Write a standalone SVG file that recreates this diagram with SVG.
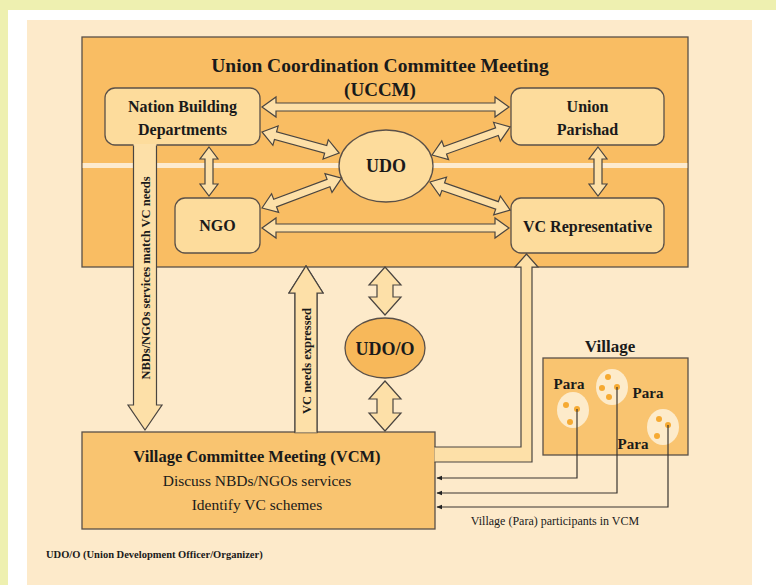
<svg xmlns="http://www.w3.org/2000/svg" width="776" height="585" viewBox="0 0 776 585">
<defs>
<style>
.t{font-family:"Liberation Serif","Times New Roman",serif;fill:#1a1a1a}
.b{font-weight:bold}
.box{stroke:#5a5048;stroke-width:1.3}
.lite{fill:#fddc9c}
.arr{fill:#fde0a8;stroke:#4a4540;stroke-width:1.2;stroke-linejoin:miter}
.thin{fill:none;stroke:#3a3530;stroke-width:1.2}
.para{fill:#fdebca}
.dot{fill:#f6aa32}
</style>
<marker id="ah" viewBox="0 0 10 10" refX="9" refY="5" markerWidth="6" markerHeight="6" orient="auto" markerUnits="userSpaceOnUse">
<path d="M0,1 L10,5 L0,9 Z" fill="#222"/>
</marker>
</defs>
<rect x="0" y="0" width="776" height="585" fill="#ffffff"/>
<rect x="0" y="0" width="776" height="10" fill="#eef0b0"/>
<rect x="0" y="0" width="8" height="585" fill="#eef0b0"/>
<rect x="27" y="20" width="725" height="565" fill="#fdeaca"/>

<g id="uccm">
<rect class="box" x="82" y="37" width="606" height="230" fill="#f9bd63"/>
<rect x="82.7" y="163" width="604.6" height="5" fill="#fdebd0"/>
<text class="t b" x="380" y="72" font-size="19.5" text-anchor="middle">Union Coordination Committee Meeting</text>
<text class="t b" x="380" y="96" font-size="19" text-anchor="middle">(UCCM)</text>
</g>

<g id="nbd">
<rect class="box lite" x="105" y="88" width="155" height="57" rx="10"/>
<path d="M133.5,144 V405 H128 L145,430 L162,405 H156.5 V144 Z" fill="#fde0a8"/>
<path class="arr" fill="none" d="M133.5,145.6 V405 H128 L145,430 L162,405 H156.5 V145.6"/>
<text class="t b" x="182.5" y="112" font-size="16" text-anchor="middle">Nation Building</text>
<text class="t b" x="182.5" y="135" font-size="16" text-anchor="middle">Departments</text>
<text class="t b" transform="translate(149.5,278) rotate(-90)" font-size="12.5" text-anchor="middle">NBDs/NGOs services match VC needs</text>
</g>

<g id="ngo">
<rect class="box lite" x="175" y="198" width="85" height="55" rx="10"/>
<text class="t b" x="217.5" y="231" font-size="16" text-anchor="middle">NGO</text>
</g>

<g id="udo">
<ellipse class="box lite" cx="386" cy="166" rx="47" ry="36"/>
<text class="t b" x="386" y="172" font-size="18" text-anchor="middle">UDO</text>
</g>

<g id="union-parishad">
<rect class="box lite" x="511" y="88" width="153" height="57" rx="10"/>
<text class="t b" x="587.5" y="112" font-size="16" text-anchor="middle">Union</text>
<text class="t b" x="587.5" y="135" font-size="16" text-anchor="middle">Parishad</text>
</g>

<g id="vc-representative">
<rect class="box lite" x="511" y="198" width="153" height="55" rx="10"/>
<text class="t b" x="587.5" y="232" font-size="16" text-anchor="middle">VC Representative</text>
</g>

<g id="udo-o">
<ellipse class="box" cx="385" cy="348" rx="40" ry="30" fill="#f7b85a"/>
<text class="t b" x="385" y="355" font-size="18" text-anchor="middle">UDO/O</text>
</g>

<g id="vcm">
<rect class="box" x="82" y="432" width="353" height="97" fill="#f9c470"/>
<text class="t b" x="257" y="462" font-size="16.5" text-anchor="middle">Village Committee Meeting (VCM)</text>
<text class="t" x="257" y="486" font-size="15.5" text-anchor="middle">Discuss NBDs/NGOs services</text>
<text class="t" x="257" y="510" font-size="15.5" text-anchor="middle">Identify VC schemes</text>
</g>

<g id="village">
<text class="t b" x="610" y="352" font-size="17" text-anchor="middle">Village</text>
<rect class="box" x="543" y="358" width="145" height="97" fill="#f9c470"/>
<ellipse class="para" cx="573" cy="410" rx="16" ry="18"/>
<ellipse class="para" cx="612" cy="387" rx="16" ry="18"/>
<ellipse class="para" cx="663" cy="427" rx="16" ry="18"/>
<circle class="dot" cx="566" cy="405" r="3"/>
<circle class="dot" cx="577" cy="409" r="3"/>
<circle class="dot" cx="570" cy="422" r="3"/>
<circle class="dot" cx="608" cy="377" r="3"/>
<circle class="dot" cx="602" cy="388" r="3"/>
<circle class="dot" cx="617" cy="387" r="3"/>
<circle class="dot" cx="609" cy="397" r="3"/>
<circle class="dot" cx="659" cy="419" r="3"/>
<circle class="dot" cx="668" cy="425" r="3"/>
<circle class="dot" cx="657" cy="436" r="3"/>
<text class="t b" x="569" y="389" font-size="15" text-anchor="middle">Para</text>
<text class="t b" x="648" y="398" font-size="15" text-anchor="middle">Para</text>
<text class="t b" x="633" y="449" font-size="15" text-anchor="middle">Para</text>
</g>

<g id="connectors">
<path class="arr" transform="translate(262,107)" d="M0,0 L14,-10 L14,-4 L233,-4 L233,-10 L247,0 L233,10 L233,4 L14,4 L14,10 Z"/>
<path class="arr" transform="translate(262,228)" d="M0,0 L14,-10 L14,-4 L233,-4 L233,-10 L247,0 L233,10 L233,4 L14,4 L14,10 Z"/>
<path class="arr" transform="translate(262,132) rotate(15.25)" d="M0,0 L14,-10 L14,-4 L66,-4 L66,-10 L80,0 L66,10 L66,4 L14,4 L14,10 Z"/>
<path class="arr" transform="translate(262,208) rotate(-20.56)" d="M0,0 L14,-10 L14,-4 L71,-4 L71,-10 L85,0 L71,10 L71,4 L14,4 L14,10 Z"/>
<path class="arr" transform="translate(432,155) rotate(-19.75)" d="M0,0 L14,-10 L14,-4 L69,-4 L69,-10 L83,0 L69,10 L69,4 L14,4 L14,10 Z"/>
<path class="arr" transform="translate(430,182) rotate(19.29)" d="M0,0 L14,-10 L14,-4 L71,-4 L71,-10 L85,0 L71,10 L71,4 L14,4 L14,10 Z"/>
<path class="arr" transform="translate(209,147) rotate(90)" d="M0,0 L12,-9 L12,-4 L37,-4 L37,-9 L49,0 L37,9 L37,4 L12,4 L12,9 Z"/>
<path class="arr" transform="translate(598,147) rotate(90)" d="M0,0 L12,-9 L12,-4 L37,-4 L37,-9 L49,0 L37,9 L37,4 L12,4 L12,9 Z"/>
<path class="arr" transform="translate(385,267) rotate(90)" d="M0,0 L18,-16 L18,-8 L30,-8 L30,-16 L48,0 L30,16 L30,8 L18,8 L18,16 Z"/>
<path class="arr" transform="translate(385,381) rotate(90)" d="M0,0 L18,-16 L18,-8 L32,-8 L32,-16 L50,0 L32,16 L32,8 L18,8 L18,16 Z"/>
<path class="arr" d="M306,266 L289,293 H295 V432.6 H317 V293 H323 Z" stroke="none"/>
<path class="arr" fill="none" d="M295,432.6 V293 H289 L306,266 L323,293 H317 V432.6"/>
<text class="t b" transform="translate(311,361) rotate(-90)" font-size="12.5" text-anchor="middle">VC needs expressed</text>
<path class="arr" d="M434.5,447 H521 V267 H515 L526.5,254 L538,267 H532 V462 H434.5"/>
<path class="thin" d="M577,409 V478 H437" marker-end="url(#ah)"/>
<path class="thin" d="M617,387 V493 H437" marker-end="url(#ah)"/>
<path class="thin" d="M668,425 V507 H437" marker-end="url(#ah)"/>
<text class="t" x="555" y="525" font-size="12" text-anchor="middle">Village (Para) participants in VCM</text>
</g>

<text class="t b" x="46" y="558" font-size="10.5">UDO/O  (Union Development Officer/Organizer)</text>
</svg>
